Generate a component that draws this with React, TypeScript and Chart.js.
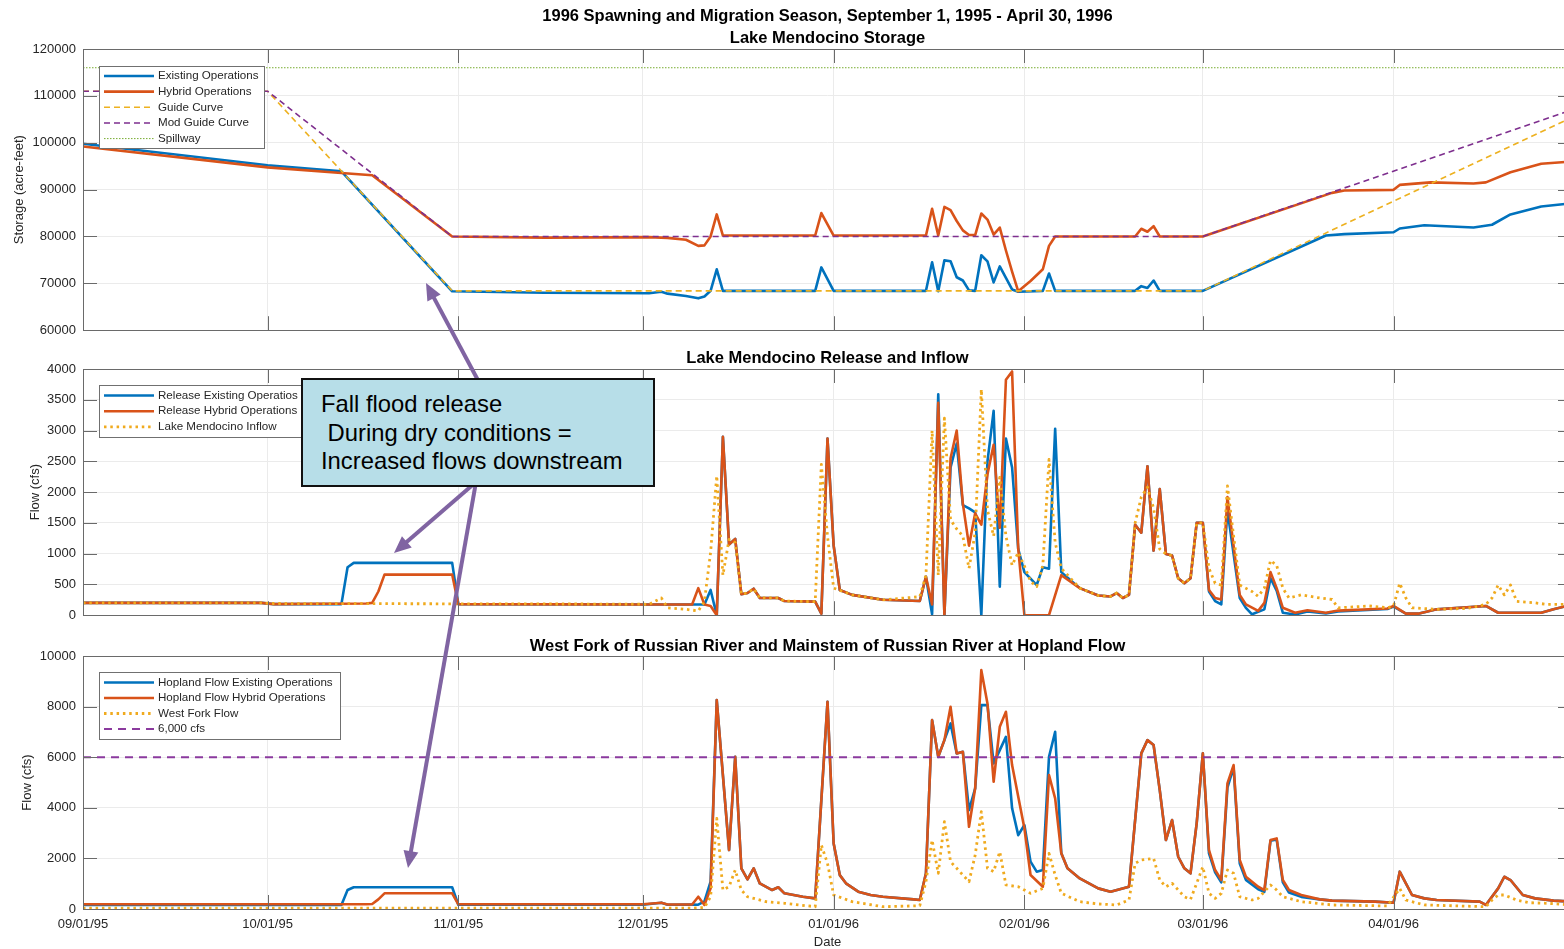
import React, { useEffect, useRef } from 'react';
import { Chart, registerables } from 'chart.js';

Chart.register(...registerables);

const FONT = '"Liberation Sans", Arial, Helvetica, sans-serif';
Chart.defaults.font.family = FONT;

// ---------- x axis (days since 09/01/95) ----------
const tickDays = [0, 30, 61, 91, 122, 153, 182, 213];
const tickLabels = ['09/01/95', '10/01/95', '11/01/95', '12/01/95', '01/01/96', '02/01/96', '03/01/96', '04/01/96'];
const X_MAX = 242;

// ---------- Lake Mendocino Storage (acre-feet) ----------
const storageExisting: [number, number][] = [
  [0, 99800], [30, 95200], [42, 93900], [60, 68300], [75, 68000], [92, 67900], [94, 68200], [95, 67800],
  [98, 67300], [100, 66800], [101, 67200], [102, 68400], [103, 73000], [104, 68400], [119, 68400],
  [120, 73400], [122, 68400], [137, 68400], [138, 74500], [139, 68300], [140, 74900], [141, 74700],
  [142, 71300], [143, 70600], [144, 68500], [145, 68400], [146, 76000], [147, 74700], [148, 70200],
  [149, 73600], [151, 68700], [152, 68200], [156, 68400], [157, 72100], [158, 68400], [171, 68400],
  [172, 69400], [173, 69000], [174, 70600], [175, 68400], [182, 68400], [202, 80200], [205, 80500],
  [213, 80900], [214, 81700], [218, 82400], [226, 81900], [229, 82500], [232, 84700], [237, 86400], [242, 87100],
];
const storageHybrid: [number, number][] = [
  [0, 99200], [30, 94750], [42, 93550], [47, 93050], [60, 80000], [75, 79750], [92, 79850], [95, 79700],
  [98, 79300], [100, 78000], [101, 78100], [102, 80000], [103, 84700], [104, 80200], [119, 80200],
  [120, 85000], [122, 80200], [137, 80200], [138, 85900], [139, 80200], [140, 86300], [141, 85600],
  [142, 83300], [143, 81300], [144, 80300], [145, 80300], [146, 84900], [147, 83600], [148, 80400],
  [149, 81900], [150, 77000], [151, 72500], [152, 68300], [154, 70500], [156, 73000], [157, 78000],
  [158, 80000], [171, 80000], [172, 81650], [173, 81000], [174, 82200], [175, 80000], [182, 80000],
  [203, 89300], [205, 89800], [213, 89950], [214, 91000], [219, 91550], [226, 91300], [228, 91550],
  [232, 93700], [237, 95500], [242, 96000],
];
const guideCurve: [number, number][] = [[0, 111000], [30, 111000], [60, 68400], [182, 68400], [242, 105400]];
const modGuideCurve: [number, number][] = [[0, 111000], [30, 111000], [60, 80000], [182, 80000], [242, 107000]];
const spillway: [number, number][] = [[0, 116000], [242, 116000]];

// ---------- Lake Mendocino Release and Inflow (cfs) ----------
const releaseExisting: [number, number][] = [
  [0, 200], [29, 200], [31, 180], [42, 180], [43, 780], [44, 850], [60, 850], [61, 180], [91, 175], [99, 175],
  [101, 175], [102, 410], [103, 0], [104, 2900], [105, 1150], [106, 1240], [107, 340], [108, 360], [109, 430],
  [110, 280], [113, 280], [114, 230], [119, 220], [120, 25], [121, 2870], [122, 1130], [123, 410], [125, 330],
  [130, 250], [136, 230], [137, 625], [138, 15], [139, 3590], [140, 0], [141, 2400], [142, 2790], [143, 1790],
  [144, 1735], [145, 1670], [146, 0], [147, 2500], [148, 3320], [149, 465], [150, 2870], [151, 2400], [152, 1075],
  [153, 700], [155, 490], [156, 780], [157, 755], [158, 3030], [159, 700], [162, 440], [165, 320], [167, 305],
  [168, 360], [169, 280], [170, 330], [171, 1470], [172, 1340], [173, 2420], [174, 1050], [175, 2050], [176, 995],
  [177, 970], [178, 600], [179, 520], [180, 600], [181, 1500], [182, 1500], [183, 385], [184, 230], [185, 175],
  [186, 1710], [188, 280], [189, 120], [190, 15], [192, 95], [193, 600], [194, 400], [195, 40], [197, 10],
  [199, 60], [202, 30], [204, 60], [212, 100], [213, 140], [215, 25], [217, 25], [220, 95], [228, 150], [230, 40],
  [237, 40], [239, 95], [242, 170],
];
const releaseHybrid: [number, number][] = [
  [0, 200], [29, 200], [31, 180], [46, 190], [47, 200], [48, 385], [49, 660], [60, 660], [61, 180], [91, 175],
  [99, 175], [100, 440], [101, 175], [102, 150], [103, 0], [104, 2900], [105, 1150], [106, 1240], [107, 340],
  [108, 360], [109, 430], [110, 280], [113, 280], [114, 230], [119, 220], [120, 25], [121, 2870], [122, 1130],
  [123, 410], [125, 330], [130, 250], [136, 230], [137, 625], [138, 175], [139, 3450], [140, 0], [141, 2550],
  [142, 3000], [143, 1810], [144, 1130], [145, 1655], [146, 1470], [147, 2290], [148, 2770], [149, 1420],
  [150, 3825], [151, 3960], [152, 1080], [153, 0], [157, 0], [159, 650], [162, 440], [165, 320], [167, 305],
  [168, 360], [169, 280], [170, 330], [171, 1470], [172, 1340], [173, 2420], [174, 1050], [175, 2050], [176, 995],
  [177, 970], [178, 600], [179, 520], [180, 600], [181, 1500], [182, 1500], [183, 410], [184, 280], [185, 255],
  [186, 1920], [188, 330], [189, 175], [191, 70], [192, 200], [193, 700], [194, 440], [195, 120], [197, 40],
  [199, 80], [202, 40], [204, 75], [212, 110], [213, 150], [215, 25], [217, 25], [220, 95], [228, 150], [230, 40],
  [237, 40], [239, 95], [242, 170],
];
const lakeInflow: [number, number][] = [
  [0, 200], [29, 200], [31, 190], [91, 180], [92, 175], [94, 280], [95, 120], [98, 95], [100, 70], [101, 225],
  [102, 1020], [103, 2265], [104, 650], [105, 1230], [106, 1180], [107, 340], [108, 360], [109, 430], [110, 280],
  [113, 280], [114, 230], [119, 220], [120, 2450], [121, 1285], [122, 440], [125, 330], [130, 250], [136, 300],
  [137, 650], [138, 3000], [139, 650], [140, 3200], [141, 1550], [142, 1400], [143, 1285], [144, 760], [145, 1340],
  [146, 3670], [147, 1710], [148, 1285], [149, 2240], [150, 1285], [151, 810], [152, 1020], [153, 800], [154, 550],
  [155, 465], [156, 810], [157, 2530], [158, 1180], [159, 760], [162, 440], [165, 320], [167, 305], [168, 360],
  [169, 280], [170, 330], [171, 1500], [172, 1920], [173, 2080], [174, 1735], [175, 1075], [176, 995], [177, 970],
  [178, 600], [179, 520], [180, 600], [181, 1500], [182, 1500], [183, 760], [184, 520], [185, 490], [186, 2100],
  [187, 1285], [188, 490], [190, 385], [191, 305], [192, 440], [193, 890], [194, 810], [195, 440], [196, 280],
  [198, 330], [201, 280], [203, 255], [204, 120], [209, 150], [212, 120], [213, 150], [214, 520], [215, 280],
  [216, 120], [220, 95], [225, 110], [228, 175], [229, 280], [230, 490], [231, 330], [232, 490], [233, 225],
  [236, 200], [238, 175], [242, 175],
];

// ---------- Hopland Flow (cfs) ----------
const hoplandExisting: [number, number][] = [
  [0, 160], [42, 160], [43, 750], [44, 860], [60, 860], [61, 170], [91, 170], [94, 250], [95, 170], [99, 180],
  [100, 170], [101, 300], [102, 1080], [103, 8255], [105, 2330], [106, 6015], [107, 1610], [108, 1170], [109, 1610],
  [110, 1010], [112, 750], [113, 860], [114, 620], [117, 485], [119, 420], [121, 8190], [122, 2590], [123, 1340],
  [124, 1015], [126, 685], [128, 553], [130, 485], [135, 380], [136, 355], [137, 1410], [138, 7465], [139, 6015],
  [140, 6675], [141, 7335], [142, 6150], [143, 6215], [144, 3910], [145, 4770], [146, 8060], [147, 8060],
  [148, 5755], [149, 6280], [150, 6805], [151, 3980], [152, 2920], [153, 3320], [154, 1870], [155, 1475],
  [156, 1540], [157, 6015], [158, 7005], [159, 2200], [160, 1610], [162, 1210], [165, 815], [167, 685], [170, 880],
  [172, 6150], [173, 6675], [174, 6480], [175, 4700], [176, 2725], [177, 3515], [178, 2065], [179, 1610],
  [180, 1410], [181, 3385], [182, 6150], [183, 2200], [184, 1450], [185, 1050], [186, 4800], [187, 5600],
  [188, 1800], [189, 1150], [191, 780], [192, 680], [193, 2700], [194, 2750], [195, 1050], [196, 650], [198, 480],
  [201, 380], [203, 330], [210, 290], [213, 250], [214, 1475], [215, 1015], [216, 553], [218, 420], [220, 355],
  [227, 290], [228, 160], [230, 815], [231, 1275], [232, 1145], [234, 553], [236, 420], [239, 330], [242, 290],
];
const hoplandHybrid: [number, number][] = [
  [0, 185], [46, 185], [47, 200], [48, 380], [49, 620], [60, 620], [61, 185], [91, 185], [94, 250], [95, 180],
  [99, 180], [100, 485], [101, 160], [102, 815], [103, 8255], [105, 2330], [106, 6015], [107, 1610], [108, 1170],
  [109, 1610], [110, 1010], [112, 750], [113, 860], [114, 620], [117, 485], [119, 420], [121, 8190], [122, 2590],
  [123, 1340], [124, 1015], [126, 685], [128, 553], [130, 485], [135, 380], [136, 355], [137, 1410], [138, 7465],
  [139, 6015], [140, 6675], [141, 7990], [142, 6150], [143, 6215], [144, 3250], [145, 4770], [146, 9440],
  [147, 8125], [148, 5030], [149, 7200], [150, 7795], [151, 5690], [153, 3190], [154, 1345], [156, 880],
  [157, 5290], [158, 4370], [159, 2200], [160, 1610], [162, 1210], [165, 815], [167, 685], [170, 880], [172, 6150],
  [173, 6675], [174, 6480], [175, 4700], [176, 2725], [177, 3515], [178, 2065], [179, 1610], [180, 1410],
  [181, 3385], [182, 6150], [183, 2330], [184, 1540], [185, 1145], [186, 4965], [187, 5690], [188, 1935],
  [189, 1275], [191, 880], [192, 750], [193, 2725], [194, 2790], [195, 1145], [196, 750], [198, 553], [201, 380],
  [203, 330], [210, 290], [213, 250], [214, 1475], [215, 1015], [216, 553], [218, 420], [220, 355], [227, 290],
  [228, 160], [230, 815], [231, 1275], [232, 1145], [234, 553], [236, 420], [239, 330], [242, 290],
];
const westForkFlow: [number, number][] = [
  [0, 30], [99, 30], [101, 60], [102, 485], [103, 3580], [104, 750], [105, 880], [106, 1540], [107, 750],
  [108, 485], [111, 290], [114, 225], [119, 90], [120, 2530], [121, 1805], [122, 553], [125, 290], [130, 90],
  [136, 130], [137, 1080], [138, 2725], [139, 1410], [140, 3450], [141, 1870], [142, 1610], [144, 1080],
  [145, 2130], [146, 3845], [147, 1610], [148, 1475], [149, 2265], [150, 950], [152, 880], [154, 620], [156, 815],
  [157, 2200], [158, 1345], [159, 620], [162, 290], [165, 200], [168, 160], [170, 355], [171, 1805], [172, 1935],
  [174, 2000], [175, 1145], [176, 880], [177, 1015], [179, 485], [180, 380], [181, 1015], [182, 1670], [183, 620],
  [184, 420], [185, 620], [186, 1540], [187, 1410], [188, 485], [190, 355], [191, 420], [193, 950], [194, 750],
  [195, 485], [198, 290], [203, 160], [212, 120], [214, 815], [215, 355], [218, 160], [228, 90], [229, 355],
  [230, 553], [231, 553], [233, 355], [235, 250], [238, 225], [242, 160],
];
const floodLevel: [number, number][] = [[0, 6000], [242, 6000]];

// ---------- annotation ----------
const NOTE_LINES = ['Fall flood release', ' During dry conditions =', 'Increased flows downstream'];
const ARROWS: [number, number, number, number][] = [
  [480, 384, 426, 283],
  [476, 482, 394, 553],
  [476, 482, 408, 868],
];

// ---------- styles ----------
const AXIS = '#6a6a6a';
const GRID = '#ebebeb';
const TEXT = '#262626';
const BLUE = '#0072BD';
const ORANGE = '#D95319';
const YELLOW = '#EDB120';
const DOT_YELLOW = '#F0AA1E';
const PURPLE = '#7E2F8E';
const GREEN = '#77AC30';
const THRESH = '#8B3A9E';
const TICK_LEN = 14;

const pts = (arr: [number, number][]) => arr.map(([x, y]) => ({ x, y }));

const matlabFrame = {
  id: 'matlabFrame',
  afterDraw(chart: any) {
    const { ctx, chartArea: a, scales } = chart;
    const xs = scales.x;
    const ys = scales.y;
    ctx.save();
    ctx.strokeStyle = AXIS;
    ctx.lineWidth = 1;
    ctx.setLineDash([]);
    ctx.beginPath();
    xs.ticks.forEach((t: any) => {
      const px = Math.round(xs.getPixelForValue(t.value)) + 0.5;
      ctx.moveTo(px, a.bottom);
      ctx.lineTo(px, a.bottom - TICK_LEN);
      ctx.moveTo(px, a.top);
      ctx.lineTo(px, a.top + TICK_LEN);
    });
    ys.ticks.forEach((t: any) => {
      const py = Math.round(ys.getPixelForValue(t.value)) + 0.5;
      ctx.moveTo(a.left, py);
      ctx.lineTo(a.left + TICK_LEN, py);
      ctx.moveTo(a.right, py);
      ctx.lineTo(a.right - TICK_LEN, py);
    });
    ctx.stroke();
    ctx.strokeRect(Math.round(a.left) + 0.5, Math.round(a.top) + 0.5, Math.round(a.right - a.left), Math.round(a.bottom - a.top));
    ctx.restore();
  },
};

const boxLegend = {
  id: 'boxLegend',
  afterDraw(chart: any, _args: any, opts: any) {
    if (!opts || !opts.width) return;
    const { ctx, chartArea: a } = chart;
    const L = Math.round(a.left + opts.dx);
    const T = Math.round(a.top + opts.dy);
    ctx.save();
    ctx.fillStyle = '#ffffff';
    ctx.fillRect(L, T, opts.width, opts.height);
    ctx.strokeStyle = '#707070';
    ctx.lineWidth = 1;
    ctx.setLineDash([]);
    ctx.strokeRect(L + 0.5, T + 0.5, opts.width, opts.height);
    ctx.font = `${opts.fontSize}px ${FONT}`;
    ctx.textBaseline = 'middle';
    ctx.textAlign = 'left';
    chart.data.datasets.forEach((ds: any, i: number) => {
      const cy = T + opts.firstRow + i * opts.rowStep;
      ctx.beginPath();
      ctx.strokeStyle = ds.borderColor;
      ctx.lineWidth = ds.borderWidth;
      ctx.setLineDash(ds.borderDash || []);
      ctx.moveTo(L + 5, cy);
      ctx.lineTo(L + 55, cy);
      ctx.stroke();
      ctx.setLineDash([]);
      ctx.fillStyle = TEXT;
      ctx.fillText(ds.label, L + 59, cy);
    });
    ctx.restore();
  },
};

function line(label: string, data: [number, number][], color: string, width: number, dash: number[], order: number) {
  return {
    label,
    data: pts(data),
    borderColor: color,
    backgroundColor: color,
    borderWidth: width,
    borderDash: dash,
    borderCapStyle: 'butt',
    borderJoinStyle: 'round',
    pointRadius: 0,
    fill: false,
    tension: 0,
    order,
  };
}

function baseOptions(p: any) {
  return {
    animation: false,
    responsive: false,
    maintainAspectRatio: false,
    devicePixelRatio: 1,
    layout: { padding: 0 },
    events: [],
    plugins: {
      legend: { display: false },
      tooltip: { enabled: false },
      title: {
        display: true,
        text: p.title,
        fullSize: false,
        color: '#000',
        font: { size: 16.5, weight: 'bold', lineHeight: p.titleLH },
        padding: { top: p.titlePadTop, bottom: p.titlePadBottom },
      },
      boxLegend: p.legend,
    },
    scales: {
      x: {
        type: 'linear',
        min: 0,
        max: X_MAX,
        afterBuildTicks: (s: any) => {
          s.ticks = tickDays.map((v) => ({ value: v }));
        },
        afterFit: (s: any) => {
          s.height = p.xHeight;
        },
        grid: { color: GRID, drawTicks: false, lineWidth: 1 },
        border: { display: false },
        ticks: {
          display: !!p.showX,
          autoSkip: false,
          maxRotation: 0,
          padding: 8,
          color: TEXT,
          font: { size: 13 },
          callback: (v: number) => {
            const i = tickDays.indexOf(v);
            return i >= 0 ? tickLabels[i] : '';
          },
        },
        title: {
          display: !!p.showX,
          text: 'Date',
          color: TEXT,
          font: { size: 13, lineHeight: 1 },
          padding: { top: 0, bottom: 0 },
        },
      },
      y: {
        type: 'linear',
        min: p.yMin,
        max: p.yMax,
        afterFit: (s: any) => {
          s.width = 83;
        },
        grid: { color: GRID, drawTicks: false, lineWidth: 1 },
        border: { display: false },
        ticks: {
          stepSize: p.yStep,
          padding: 7,
          color: TEXT,
          font: { size: 13 },
          callback: (v: number) => String(v),
        },
        title: {
          display: true,
          text: p.yTitle,
          color: TEXT,
          font: { size: 13 },
          padding: { top: p.yTitlePad, bottom: 0 },
        },
      },
    },
  };
}

function storageConfig(): any {
  return {
    type: 'line',
    data: {
      datasets: [
        line('Existing Operations', storageExisting, BLUE, 2.6, [], 4),
        line('Hybrid Operations', storageHybrid, ORANGE, 2.6, [], 3),
        line('Guide Curve', guideCurve, YELLOW, 1.6, [6, 4], 2),
        line('Mod Guide Curve', modGuideCurve, PURPLE, 1.6, [6, 4], 1),
        line('Spillway', spillway, GREEN, 1, [1.5, 1.5], 0),
      ],
    },
    options: baseOptions({
      title: ['1996 Spawning and Migration Season, September 1, 1995 - April 30, 1996', 'Lake Mendocino Storage'],
      titleLH: '22px',
      titlePadTop: 5,
      titlePadBottom: 0,
      xHeight: 14,
      showX: false,
      yMin: 60000,
      yMax: 120000,
      yStep: 10000,
      yTitle: 'Storage (acre-feet)',
      yTitlePad: 11.5,
      legend: { dx: 16, dy: 16.7, width: 165, height: 82, firstRow: 10, rowStep: 15.65, fontSize: 11.6 },
    }),
    plugins: [matlabFrame, boxLegend],
  };
}

function releaseConfig(): any {
  return {
    type: 'line',
    data: {
      datasets: [
        line('Release Existing Operatios', releaseExisting, BLUE, 2.6, [], 3),
        line('Release Hybrid Operations', releaseHybrid, ORANGE, 2.6, [], 2),
        line('Lake Mendocino Inflow', lakeInflow, DOT_YELLOW, 2.8, [2.5, 3.8], 1),
      ],
    },
    options: baseOptions({
      title: 'Lake Mendocino Release and Inflow',
      titleLH: '20px',
      titlePadTop: 8,
      titlePadBottom: 1,
      xHeight: 9,
      showX: false,
      yMin: 0,
      yMax: 4000,
      yStep: 500,
      yTitle: 'Flow (cfs)',
      yTitlePad: 27.5,
      legend: { dx: 16, dy: 16, width: 215, height: 52, firstRow: 10.5, rowStep: 15.7, fontSize: 11.6 },
    }),
    plugins: [matlabFrame, boxLegend],
  };
}

function hoplandConfig(): any {
  return {
    type: 'line',
    data: {
      datasets: [
        line('Hopland Flow Existing Operations', hoplandExisting, BLUE, 2.6, [], 3),
        line('Hopland Flow Hybrid Operations', hoplandHybrid, ORANGE, 2.6, [], 2),
        line('West Fork Flow', westForkFlow, DOT_YELLOW, 2.8, [2.5, 3.8], 1),
        line('6,000 cfs', floodLevel, THRESH, 2, [8, 6], 0),
      ],
    },
    options: baseOptions({
      title: 'West Fork of Russian River and Mainstem of Russian River at Hopland Flow',
      titleLH: '20px',
      titlePadTop: 8,
      titlePadBottom: 0,
      xHeight: 40,
      showX: true,
      yMin: 0,
      yMax: 10000,
      yStep: 2000,
      yTitle: 'Flow (cfs)',
      yTitlePad: 19.5,
      legend: { dx: 16, dy: 16.3, width: 241, height: 67, firstRow: 10.5, rowStep: 15.5, fontSize: 11.6 },
    }),
    plugins: [matlabFrame, boxLegend],
  };
}

function arrowShape([x1, y1, x2, y2]: [number, number, number, number]) {
  const dx = x2 - x1;
  const dy = y2 - y1;
  const len = Math.hypot(dx, dy);
  const ux = dx / len;
  const uy = dy / len;
  const hl = 17;
  const hw = 7.5;
  const bx = x2 - ux * hl;
  const by = y2 - uy * hl;
  return {
    x1,
    y1,
    x2: bx + ux * 3,
    y2: by + uy * 3,
    poly: `${x2},${y2} ${bx - uy * hw},${by + ux * hw} ${bx + uy * hw},${by - ux * hw}`,
  };
}

export default function App() {
  const r1 = useRef<HTMLCanvasElement | null>(null);
  const r2 = useRef<HTMLCanvasElement | null>(null);
  const r3 = useRef<HTMLCanvasElement | null>(null);

  useEffect(() => {
    const charts = [
      new Chart(r1.current as HTMLCanvasElement, storageConfig()),
      new Chart(r2.current as HTMLCanvasElement, releaseConfig()),
      new Chart(r3.current as HTMLCanvasElement, hoplandConfig()),
    ];
    return () => charts.forEach((c) => c.destroy());
  }, []);

  return (
    <div
      style={{
        position: 'fixed',
        left: 0,
        top: 0,
        width: 1564,
        height: 949,
        overflow: 'hidden',
        background: '#ffffff',
      }}
    >
      <canvas ref={r1} width={1572} height={345} style={{ position: 'absolute', left: 0, top: 0 }} />
      <canvas ref={r2} width={1572} height={290} style={{ position: 'absolute', left: 0, top: 340 }} />
      <canvas ref={r3} width={1572} height={321} style={{ position: 'absolute', left: 0, top: 628 }} />
      <svg
        width={1564}
        height={949}
        style={{ position: 'absolute', left: 0, top: 0, pointerEvents: 'none' }}
      >
        {ARROWS.map((a, i) => {
          const s = arrowShape(a);
          return (
            <g key={i}>
              <line x1={s.x1} y1={s.y1} x2={s.x2} y2={s.y2} stroke="#8064A2" strokeWidth={4} />
              <polygon points={s.poly} fill="#8064A2" />
            </g>
          );
        })}
      </svg>
      <div
        style={{
          position: 'absolute',
          left: 301,
          top: 378,
          width: 354,
          height: 109,
          boxSizing: 'border-box',
          border: '2px solid #111',
          background: '#B7DEE8',
          padding: '10px 0 0 18px',
          fontFamily: FONT,
          fontSize: 23.8,
          lineHeight: '28.5px',
          color: '#000',
          whiteSpace: 'pre',
        }}
      >
        {NOTE_LINES.join('\n')}
      </div>
    </div>
  );
}
